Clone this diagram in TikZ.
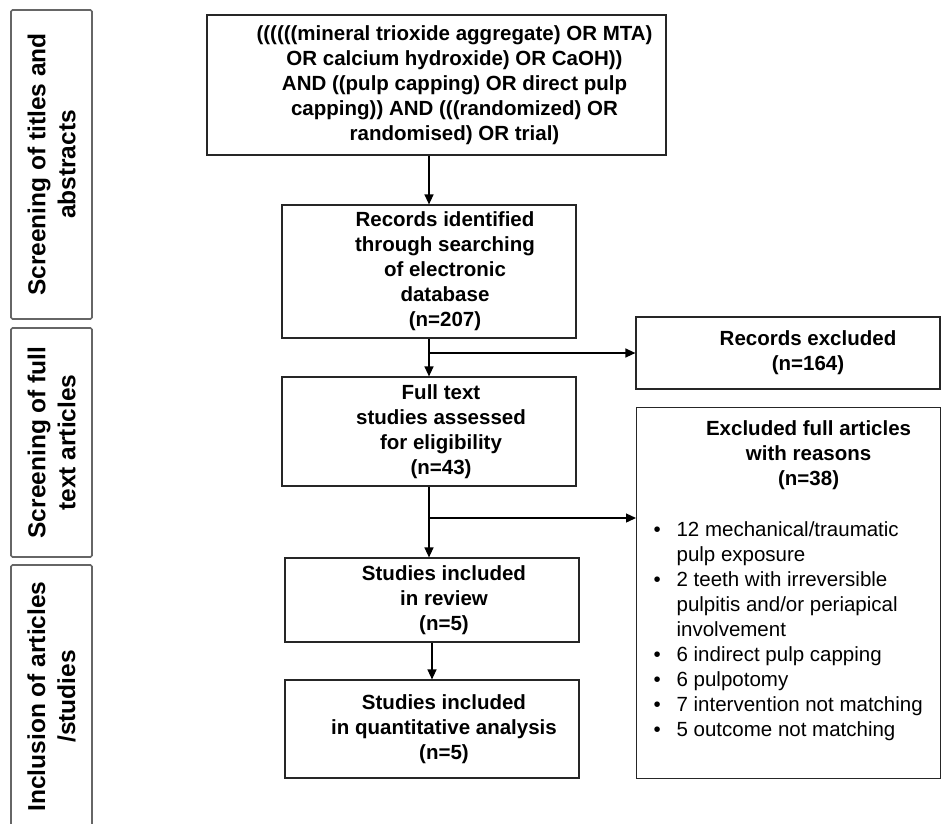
\documentclass[tikz,border=0pt]{standalone}
\usepackage{fontspec}
\setmainfont{Liberation Sans}
\usetikzlibrary{arrows.meta,positioning}
\tikzset{
  box/.style={
    draw=black!85, line width=1.2pt, align=center, inner sep=0pt,
    font=\fontsize{20.5}{25}\selectfont\bfseries
  },
  stage/.style={
    draw=black!60, line width=1.6pt, rounded corners=1.5pt, rotate=90,
    align=center, inner sep=0pt, font=\fontsize{24.5}{30}\selectfont\bfseries
  },
  arr/.style={-{Triangle[length=10pt,width=9pt]}, line width=1.3pt}
}
% text block pushed a little to the right inside its box
\newcommand{\offs}[2][32pt]{\begin{tabular}{@{\hspace{#1}}c@{}}#2\end{tabular}}
\newcommand{\bul}[1]{\hangindent=40pt\hangafter=1
  \hspace*{17pt}\makebox[23pt][l]{\textbullet}#1\par}

\begin{document}
\begin{tikzpicture}[x=1pt, y=-1pt]
  \useasboundingbox[fill=white] (0,0) rectangle (942,823);

  % stages on the left
  \node[stage, minimum width=309, minimum height=81] (s1) at (51.5,164.5)
    {Screening of titles and\\abstracts};
  \node[stage, minimum width=229, minimum height=81] (s2) at (51.5,442.5)
    {Screening of full\\text articles};
  \node[stage, minimum width=263, minimum height=81] (s3) at (51.5,696.5)
    {Inclusion of articles\\/studies};

  % main column
  \node[box, minimum width=459, minimum height=140] (query) at (436.5,85)
    {\offs[36pt]{((((((mineral trioxide aggregate) OR MTA)\\OR calcium hydroxide) OR CaOH))\\AND ((pulp capping) OR direct pulp\\capping)) AND (((randomized) OR\\randomised) OR trial)}};
  \node[box, minimum width=294, minimum height=133] (rec) at (429,271.5)
    {\offs{Records identified\\through searching\\of electronic\\database\\(n=207)}};
  \node[box, minimum width=294, minimum height=109] (full) at (429,431.5)
    {\offs[24pt]{Full text\\studies assessed\\for eligibility\\(n=43)}};
  \node[box, minimum width=294, minimum height=84] (incl) at (432,600)
    {\offs[24pt]{Studies included\\in review\\(n=5)}};
  \node[box, minimum width=294, minimum height=98] (quant) at (432,729)
    {\offs[24pt]{Studies included\\in quantitative analysis\\(n=5)}};

  % exclusions
  \node[box, minimum width=304, minimum height=72] (excl1) at (788,353)
    {\offs[40pt]{Records excluded\\(n=164)}};
  \node[box, anchor=north west] (excl2) at (636,407)
    {\begin{minipage}[t][371pt][t]{304pt}
      \centering\rule{0pt}{28pt}\hspace*{40pt}Excluded full articles\\
      \hspace*{40pt}with reasons\\\hspace*{40pt}(n=38)\par
      \vspace{26pt}
      \raggedright\mdseries
      \bul{12 mechanical/traumatic\newline pulp exposure}
      \bul{2 teeth with irreversible\newline pulpitis and/or periapical\newline involvement}
      \bul{6 indirect pulp capping}
      \bul{6 pulpotomy}
      \bul{7 intervention not matching}
      \bul{5 outcome not matching}
    \end{minipage}};

  \coordinate (b2) at (429,518);

  \draw[arr] (query.south -| rec.north) -- (rec.north);
  \draw[arr] (rec.south) -- (full.north);
  \draw[arr] (rec.south |- excl1.west) -- (excl1.west);
  \draw[arr] (full.south) -- (full.south |- incl.north);
  \draw[arr] (b2) -- (b2 -| excl2.west);
  \draw[arr] (incl.south) -- (quant.north);
\end{tikzpicture}
\end{document}
